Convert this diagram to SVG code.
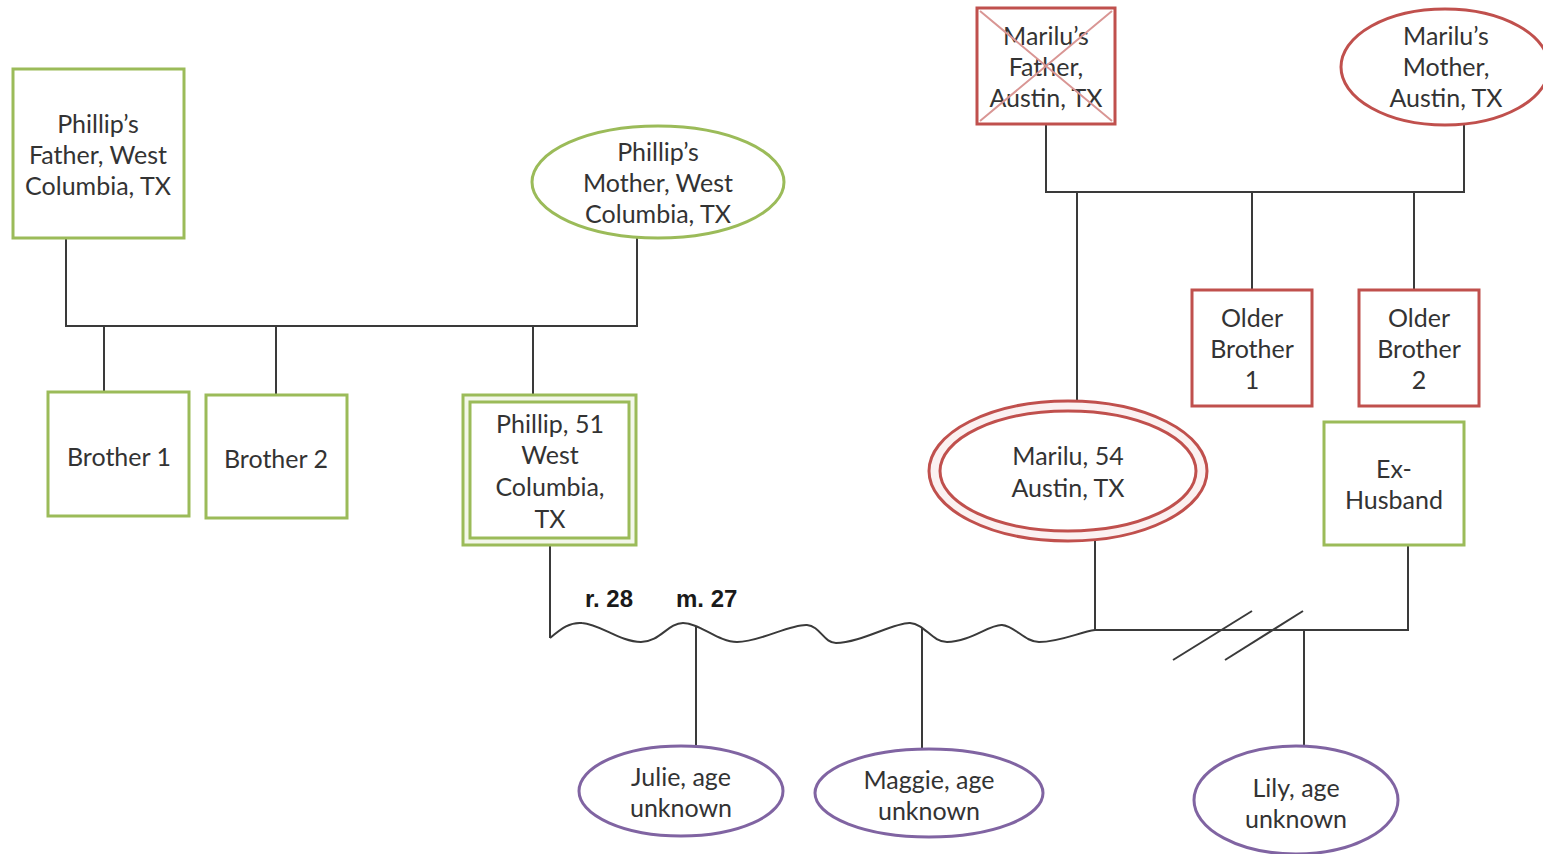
<svg xmlns="http://www.w3.org/2000/svg" width="1543" height="854" viewBox="0 0 1543 854">
  <style>
    .lbl { font-family: Lato, "Open Sans", "Liberation Sans", sans-serif; font-size: 25px; fill: #333333; text-anchor: middle; }
    .yr { font-family: "Liberation Sans", Arial, sans-serif; font-size: 24px; font-weight: bold; fill: #1a1a1a; }
    .male { fill: #ffffff; stroke: #9bbb59; stroke-width: 3; }
    .fem-g { fill: #ffffff; stroke: #9bbb59; stroke-width: 3; }
    .red { fill: #ffffff; stroke: #c0504d; stroke-width: 3; }
    .kid { fill: #ffffff; stroke: #8064a2; stroke-width: 3; }
    .wire { fill: none; stroke: #3a3a3a; stroke-width: 2; }
  </style>
  <rect width="1543" height="854" fill="#ffffff"/>

  <!-- connectors -->
  <g id="connectors" class="wire">
    <!-- Phillip's parents -->
    <path d="M66,238 V326 H637 V238"/>
    <path d="M104,326 V392"/>
    <path d="M276,326 V395"/>
    <path d="M533,326 V395"/>
    <!-- Marilu's parents -->
    <path d="M1046,124 V192 H1464 V124"/>
    <path d="M1077,192 V401"/>
    <path d="M1252,192 V290"/>
    <path d="M1414,192 V290"/>
    <!-- Phillip and Marilu (wavy union) -->
    <path d="M550,545 V638"/>
    <path d="M1095,541 V630"/>
    <path d="M550,638 C562,628 570,622 582,623 C600,624 620,642 641,642 C660,642 668,623 683,623 C700,623 718,642 737,642 C760,642 790,624 807,625 C820,626 824,643 836,643 C860,643 895,622 910,623 C925,624 932,642 947,642 C970,642 990,624 1002,625 C1015,626 1025,642 1039,642 C1060,642 1080,632 1095,630"/>
    <path d="M696,626 V746"/>
    <path d="M922,628 V749"/>
    <!-- Marilu and ex-husband -->
    <path d="M1095,630 H1408 V545"/>
    <path d="M1304,630 V746"/>
    <path d="M1173,660 L1252,611"/>
    <path d="M1225,660 L1303,611"/>
  </g>

  <g id="years">
    <text class="yr" x="585" y="607">r. 28</text>
    <text class="yr" x="676" y="607">m. 27</text>
  </g>

  <g id="phillip-father">
    <rect class="male" x="13" y="69" width="171" height="169"/>
    <text class="lbl" x="98" y="133">Phillip’s</text>
    <text class="lbl" x="98" y="164">Father, West</text>
    <text class="lbl" x="98" y="195">Columbia, TX</text>
  </g>

  <g id="phillip-mother">
    <ellipse class="fem-g" cx="658" cy="182" rx="126" ry="56"/>
    <text class="lbl" x="658" y="161">Phillip’s</text>
    <text class="lbl" x="658" y="192">Mother, West</text>
    <text class="lbl" x="658" y="223">Columbia, TX</text>
  </g>

  <g id="brother-1">
    <rect class="male" x="48" y="392" width="141" height="124"/>
    <text class="lbl" x="119" y="466">Brother 1</text>
  </g>

  <g id="brother-2">
    <rect class="male" x="206" y="395" width="141" height="123"/>
    <text class="lbl" x="276" y="468">Brother 2</text>
  </g>

  <g id="phillip">
    <rect x="463" y="395" width="173" height="150" fill="#f3f7ea" stroke="#9bbb59" stroke-width="3"/>
    <rect x="470" y="402" width="159" height="136" fill="#ffffff" stroke="#9bbb59" stroke-width="3"/>
    <text class="lbl" x="550" y="433">Phillip, 51</text>
    <text class="lbl" x="550" y="464">West</text>
    <text class="lbl" x="550" y="496">Columbia,</text>
    <text class="lbl" x="550" y="528">TX</text>
  </g>

  <g id="marilu-father">
    <rect class="red" x="977" y="8" width="138" height="116"/>
    <text class="lbl" x="1046" y="45">Marilu’s</text>
    <text class="lbl" x="1046" y="76">Father,</text>
    <text class="lbl" x="1046" y="107">Austin, TX</text>
    <path d="M980,11 L1112,121 M1112,11 L980,121" stroke="#d99694" stroke-width="2" fill="none"/>
  </g>

  <g id="marilu-mother">
    <ellipse class="red" cx="1445" cy="67" rx="104" ry="58"/>
    <text class="lbl" x="1446" y="45">Marilu’s</text>
    <text class="lbl" x="1446" y="76">Mother,</text>
    <text class="lbl" x="1446" y="107">Austin, TX</text>
  </g>

  <g id="older-brother-1">
    <rect class="red" x="1192" y="290" width="120" height="116"/>
    <text class="lbl" x="1252" y="327">Older</text>
    <text class="lbl" x="1252" y="358">Brother</text>
    <text class="lbl" x="1252" y="389">1</text>
  </g>

  <g id="older-brother-2">
    <rect class="red" x="1359" y="290" width="120" height="116"/>
    <text class="lbl" x="1419" y="327">Older</text>
    <text class="lbl" x="1419" y="358">Brother</text>
    <text class="lbl" x="1419" y="389">2</text>
  </g>

  <g id="marilu">
    <ellipse cx="1068" cy="471" rx="139" ry="70" fill="#fbf1f1" stroke="#c0504d" stroke-width="3"/>
    <ellipse cx="1068" cy="471" rx="128" ry="60" fill="#ffffff" stroke="#c0504d" stroke-width="3"/>
    <text class="lbl" x="1068" y="465">Marilu, 54</text>
    <text class="lbl" x="1068" y="497">Austin, TX</text>
  </g>

  <g id="ex-husband">
    <rect class="male" x="1324" y="422" width="140" height="123"/>
    <text class="lbl" x="1394" y="478">Ex-</text>
    <text class="lbl" x="1394" y="509">Husband</text>
  </g>

  <g id="julie">
    <ellipse class="kid" cx="681" cy="791" rx="102" ry="45"/>
    <text class="lbl" x="681" y="786">Julie, age</text>
    <text class="lbl" x="681" y="817">unknown</text>
  </g>

  <g id="maggie">
    <ellipse class="kid" cx="929" cy="793" rx="114" ry="44"/>
    <text class="lbl" x="929" y="789">Maggie, age</text>
    <text class="lbl" x="929" y="820">unknown</text>
  </g>

  <g id="lily">
    <ellipse class="kid" cx="1296" cy="800" rx="102" ry="54"/>
    <text class="lbl" x="1296" y="797">Lily, age</text>
    <text class="lbl" x="1296" y="828">unknown</text>
  </g>
</svg>
